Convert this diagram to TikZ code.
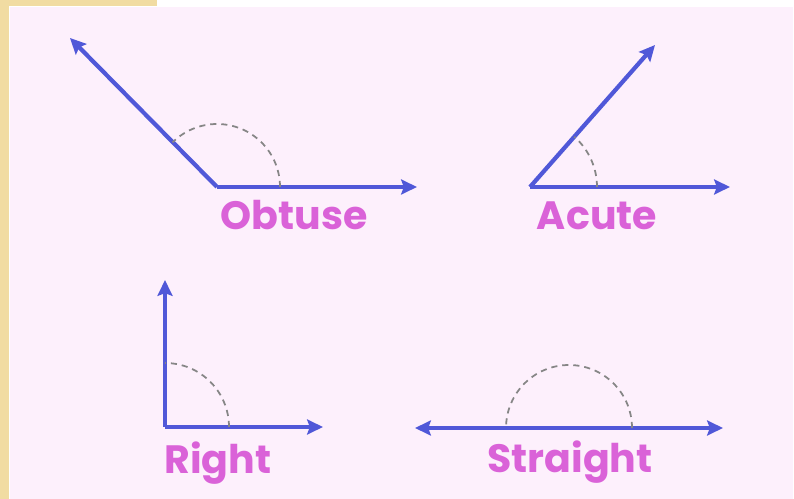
\documentclass[tikz,border=0pt]{standalone}
\usepackage{fontspec}
\newfontfamily\labelfont{Poppins}
\usetikzlibrary{arrows.meta}
\definecolor{raycol}{HTML}{5058D8}
\definecolor{namecol}{HTML}{DA62D8}
\definecolor{bgcol}{HTML}{FDF0FC}
\definecolor{rimcol}{HTML}{F1DCA2}

\begin{document}
\begin{tikzpicture}[x=0.02cm,y=-0.02cm]
\tikzset{ray/.style={raycol,line width=2.4pt,-{Stealth[length=9pt,width=8.5pt,inset=1.5pt]}},
  arcline/.style={gray!95,line width=1pt,dash pattern=on 3.5pt off 2.8pt},
  anglename/.style={text=namecol,font=\labelfont\bfseries\fontsize{22.5}{24}\selectfont,anchor=base}}

% frame
\fill[white] (0,0) rectangle (794,499);
\fill[bgcol] (10,7) rectangle (793,499);
\fill[rimcol] (0,0) rectangle (157,6);
\fill[rimcol] (0,0) rectangle (9,499);
\useasboundingbox (0,0) rectangle (794,499);

% obtuse
\path (217,187) coordinate (o0);
\path (417,187) coordinate (o1);
\path (70,38) coordinate (o2);
\path (280,187) coordinate (oa);
\draw[ray] (o0) -- (o1);
\draw[ray] (o0) -- (o2);
\draw[arcline] (oa) arc[start angle=0,end angle=135,radius=1.26cm];
\path (294,230) node[anglename] (obtuse) {Obtuse};

% acute
\path (530,187) coordinate (a0);
\path (730,187) coordinate (a1);
\path (655,45) coordinate (a2);
\path (597,187) coordinate (aa);
\draw[ray] (a0) -- (a1);
\draw[ray] (a0) -- (a2);
\draw[arcline] (aa) arc[start angle=0,end angle=48.6,radius=1.34cm];
\path (597,230) node[anglename] (acute) {Acute};

% right
\path (165,427) coordinate (r0);
\path (323,427) coordinate (r1);
\path (165,280) coordinate (r2);
\path (229,427) coordinate (ra);
\draw[ray] (r0) -- (r1);
\draw[ray] (r0) -- (r2);
\draw[arcline] (ra) arc[start angle=0,end angle=90,radius=1.28cm];
\path (218,474) node[anglename] (right) {Right};

% straight
\path (569,428) coordinate (s0);
\path (723,428) coordinate (s1);
\path (415,428) coordinate (s2);
\path (632,428) coordinate (sa);
\draw[ray] (s0) -- (s1);
\draw[ray] (s0) -- (s2);
\draw[arcline] (sa) arc[start angle=0,end angle=180,radius=1.26cm];
\path (570,473) node[anglename] (straight) {Straight};

\end{tikzpicture}
\end{document}
